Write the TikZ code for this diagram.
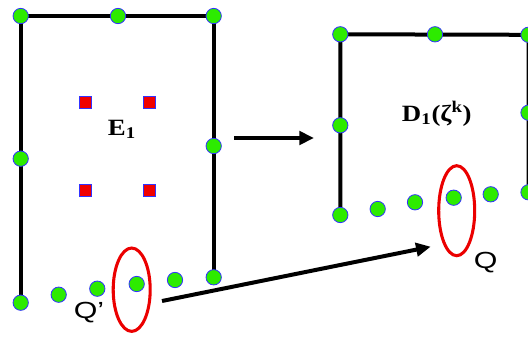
\documentclass[tikz,border=0pt]{standalone}
\usepackage{graphicx}
\usepackage{fontspec}
\setmainfont{Liberation Serif}
\newfontfamily\arialfont{Liberation Sans}
\usetikzlibrary{arrows.meta,backgrounds,shapes.geometric}
\definecolor{dotgreen}{RGB}{45,235,0}
\definecolor{dotblue}{RGB}{50,50,255}
\definecolor{sqred}{RGB}{240,0,0}
\definecolor{ellred}{RGB}{235,0,0}
\begin{document}
\begin{tikzpicture}[x=0.75pt,y=-0.75pt,
  dot/.style={circle,fill=dotgreen,draw=dotblue,line width=0.6pt,minimum size=11.5pt,inner sep=0pt},
  sq/.style={rectangle,fill=sqred,draw=dotblue,line width=0.6pt,minimum size=9pt,inner sep=0pt},
  edgeline/.style={line width=3pt},
  arr/.style={line width=3pt,-{Triangle[length=11pt,width=10pt]}},
  ring/.style={ellipse,draw=ellred,line width=2.3pt,inner sep=0pt},
  boldlbl/.style={font=\fontsize{17.5}{20}\selectfont\bfseries,inner sep=0pt,anchor=base west},
  qlbl/.style={font=\fontsize{17.5}{20}\selectfont\arialfont,inner sep=0pt,anchor=base west}]
\useasboundingbox (0,0) rectangle (528,336);
% left box dots
\node[dot] (L1) at (20.7,16) {};
\node[dot] (L2) at (118,16) {};
\node[dot] (L3) at (213.7,16) {};
\node[dot] (L4) at (20.7,158.7) {};
\node[dot] (L5) at (213.7,146) {};
\node[dot] (L6) at (20.7,302.7) {};
\node[dot] (L7) at (213.7,277.3) {};
\node[dot] (B1) at (58.7,294.7) {};
\node[dot] (B2) at (97.3,288.7) {};
\node[dot] (B3) at (136.7,284) {};
\node[dot] (B4) at (175,280) {};
% red squares
\node[sq] (S1) at (85.3,102.7) {};
\node[sq] (S2) at (149.3,102.7) {};
\node[sq] (S3) at (85.3,190.7) {};
\node[sq] (S4) at (149.3,190.7) {};
% right box dots
\node[dot] (R1) at (340.3,34.3) {};
\node[dot] (R2) at (435,34.3) {};
\node[dot] (R3) at (528.5,34.8) {};
\node[dot] (R4) at (340.3,125.3) {};
\node[dot] (R5) at (528.5,112.7) {};
\node[dot] (R6) at (340.3,215) {};
\node[dot] (C1) at (377.7,209) {};
\node[dot] (C2) at (415,202.3) {};
\node[dot] (C3) at (453.7,197.7) {};
\node[dot] (C4) at (490.7,194.3) {};
\node[dot] (C5) at (528.5,192.3) {};
% box outlines behind the dots
\begin{scope}[on background layer]
\draw[edgeline] (L6.center) -- (L1.center) -- (L3.center) -- (L7.center);
\draw[edgeline] (R6.center) -- (R1.center) -- (R3.center) -- (C5.center);
\end{scope}
% labels
\node[boldlbl] (E1) at (107.7,135.5) {\scalebox{1.15}[1]{E\textsubscript{1}}};
\node[boldlbl] (D1) at (401.7,121) {\scalebox{1.15}[1]{D\textsubscript{1}(ζ\textsuperscript{k})}};
\node[qlbl] (Qp) at (73.5,318.5) {\scalebox{1.3}[1]{Q’}};
\node[qlbl] (Q) at (473.5,268.5) {\scalebox{1.3}[1]{Q}};
% ellipses
\node[ring,minimum width=27.75pt,minimum height=62.5pt] (O1) at (131.7,289.7) {};
\node[ring,minimum width=27pt,minimum height=67.5pt] (O2) at (456.7,210.7) {};
% arrows
\coordinate (h1) at (234.3,138);
\coordinate (h2) at (314,138);
\draw[arr] (h1) -- (h2);
\coordinate (g1) at (162,301);
\coordinate (g2) at (430.7,246.7);
\draw[arr] (g1) -- (g2);
\end{tikzpicture}
\end{document}
